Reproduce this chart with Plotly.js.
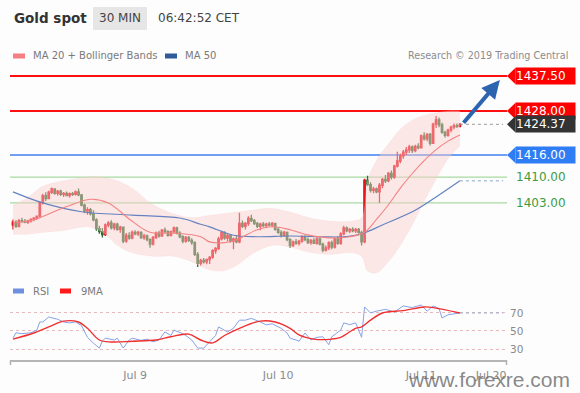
<!DOCTYPE html>
<html>
<head>
<meta charset="utf-8">
<script src="https://cdn.plot.ly/plotly-3.0.1.min.js"></script>
<style>
html,body{margin:0;padding:0;background:#fdfdfd;}
#chart{width:580px;height:393px;}
</style>
</head>
<body>
<div id="chart"></div>
<script>
// ---------- DATA ----------
const startTime = '2019-07-08T03:30:00Z';   // first 30-min bar
const barMinutes = 30;

const opens = [1397.0,1397.8,1396.6,1398.2,1398.0,1397.8,1398.1,1398.5,1398.9,1399.4,
1403.0,1405.0,1404.2,1405.9,1406.8,1405.6,1406.2,1405.3,1405.6,1405.0,
1405.5,1405.3,1406.0,1405.2,1402.4,1400.8,1401.2,1400.0,1398.4,1396.0,
1395.2,1394.4,1397.0,1397.6,1396.2,1397.2,1395.8,1396.4,1392.6,1394.2,
1393.4,1395.0,1394.6,1395.0,1393.6,1394.0,1393.0,1391.8,1393.6,1394.8,
1394.0,1395.6,1395.2,1394.2,1395.2,1396.2,1394.8,1393.8,1392.6,1393.6,
1392.8,1392.2,1389.0,1386.6,1387.4,1387.0,1387.6,1388.2,1390.0,1390.6,
1393.2,1395.0,1393.4,1394.2,1392.6,1393.2,1392.4,1397.4,1396.6,1397.4,
1398.8,1398.2,1397.4,1396.6,1397.2,1396.8,1397.2,1397.0,1397.4,1395.8,
1395.0,1394.2,1395.0,1393.0,1391.4,1392.4,1392.0,1392.6,1393.8,1393.0,
1392.2,1392.8,1392.0,1393.2,1391.8,1390.2,1390.8,1392.2,1391.0,1393.2,
1392.0,1394.6,1396.2,1395.4,1395.8,1395.4,1395.8,1395.0,1392.4,1409.2,
1408.0,1406.4,1406.8,1406.0,1407.8,1409.4,1409.0,1411.0,1410.0,1413.0,
1414.4,1415.8,1416.8,1417.4,1418.2,1417.2,1418.4,1418.0,1421.2,1420.4,
1421.6,1419.2,1424.4,1425.6,1424.2,1422.2,1421.4,1422.8,1423.6,1424.0,
1423.8];
const highs = [1398.5,1398.3,1398.6,1399.0,1398.6,1398.4,1398.8,1399.1,1399.6,1403.4,
1405.5,1405.9,1406.3,1407.2,1407.0,1406.5,1406.6,1406.0,1406.1,1405.8,
1406.0,1406.4,1406.9,1405.4,1402.8,1401.8,1401.6,1401.0,1398.8,1396.8,
1396.2,1397.4,1398.0,1398.3,1397.6,1397.6,1396.8,1396.6,1394.8,1395.0,
1395.5,1395.6,1395.4,1395.3,1394.6,1394.4,1393.4,1394.0,1395.2,1395.4,
1395.9,1396.3,1395.6,1395.5,1396.6,1396.5,1395.3,1394.2,1394.0,1394.0,
1393.4,1392.6,1389.6,1387.8,1388.0,1387.9,1388.6,1390.4,1391.0,1393.8,
1395.4,1395.3,1394.6,1394.5,1393.6,1394.2,1400.3,1398.2,1397.8,1399.4,
1399.8,1398.6,1397.8,1397.6,1397.8,1397.6,1397.8,1397.8,1397.6,1396.4,
1395.6,1395.4,1395.2,1393.4,1392.8,1393.2,1393.0,1394.2,1394.2,1393.6,
1393.2,1393.4,1393.8,1393.6,1392.2,1391.4,1392.6,1392.8,1393.6,1394.0,
1395.0,1396.8,1396.6,1396.2,1396.4,1396.2,1396.2,1395.4,1409.6,1410.4,
1408.6,1407.4,1407.2,1408.4,1409.8,1410.6,1411.4,1411.8,1413.4,1416.9,
1416.4,1417.4,1418.2,1418.8,1418.6,1418.8,1419.2,1421.6,1422.2,1422.0,
1422.0,1424.8,1426.6,1426.2,1424.8,1422.6,1423.2,1424.0,1424.6,1424.6,
1424.7];
const lows = [1395.8,1396.2,1396.3,1397.6,1397.5,1397.3,1397.7,1398.0,1398.4,1399.0,
1402.6,1403.5,1404.0,1405.4,1405.2,1405.0,1404.9,1404.6,1404.8,1404.5,
1404.9,1405.0,1404.8,1402.0,1400.2,1399.8,1399.6,1398.0,1395.4,1394.6,
1393.6,1394.0,1396.4,1395.8,1395.6,1395.4,1394.9,1392.0,1392.2,1393.0,
1393.1,1394.2,1394.0,1393.2,1393.0,1392.6,1390.8,1391.4,1393.2,1393.6,
1393.8,1394.8,1393.8,1393.9,1394.6,1394.4,1393.4,1392.0,1392.2,1392.4,
1391.6,1388.6,1385.6,1386.0,1386.5,1386.3,1386.4,1387.8,1389.2,1390.2,
1392.8,1393.0,1392.6,1392.2,1390.4,1392.0,1392.0,1396.2,1395.8,1396.8,
1397.8,1397.0,1396.2,1395.6,1396.4,1396.2,1396.6,1396.4,1395.4,1394.6,
1393.6,1393.8,1392.6,1390.8,1391.0,1391.6,1391.4,1392.2,1392.6,1391.8,
1391.6,1391.8,1391.6,1391.4,1389.6,1389.8,1390.2,1390.4,1390.6,1391.6,
1391.6,1394.2,1395.0,1394.8,1395.0,1394.8,1394.6,1391.4,1392.0,1407.6,
1405.8,1405.6,1405.6,1403.0,1407.0,1408.4,1408.6,1409.4,1409.6,1412.6,
1413.8,1415.0,1416.0,1416.6,1416.6,1416.8,1417.6,1417.8,1420.0,1419.8,
1418.6,1419.0,1423.4,1423.6,1421.8,1420.8,1421.0,1422.2,1423.0,1423.4,
1423.5];
const closes = [1397.8,1396.6,1398.2,1398.0,1397.8,1398.1,1398.5,1398.9,1399.4,1403.0,
1405.0,1404.2,1405.9,1406.8,1405.6,1406.2,1405.3,1405.6,1405.0,1405.5,
1405.3,1406.0,1405.2,1402.4,1400.8,1401.2,1400.0,1398.4,1396.0,1395.2,
1394.4,1397.0,1397.6,1396.2,1397.2,1395.8,1396.4,1392.6,1394.2,1393.4,
1395.0,1394.6,1395.0,1393.6,1394.0,1393.0,1391.8,1393.6,1394.8,1394.0,
1395.6,1395.2,1394.2,1395.2,1396.2,1394.8,1393.8,1392.6,1393.6,1392.8,
1392.2,1389.0,1386.6,1387.4,1387.0,1387.6,1388.2,1390.0,1390.6,1393.2,
1395.0,1393.4,1394.2,1392.6,1393.2,1392.4,1397.4,1396.6,1397.4,1398.8,
1398.2,1397.4,1396.6,1397.2,1396.8,1397.2,1397.0,1397.4,1395.8,1395.0,
1394.2,1395.0,1393.0,1391.4,1392.4,1392.0,1392.6,1393.8,1393.0,1392.2,
1392.8,1392.0,1393.2,1391.8,1390.2,1390.8,1392.2,1391.0,1393.2,1392.0,
1394.6,1396.2,1395.4,1395.8,1395.4,1395.8,1395.0,1392.4,1409.2,1408.0,
1406.4,1406.8,1406.0,1407.8,1409.4,1409.0,1411.0,1410.0,1413.0,1414.4,
1415.8,1416.8,1417.4,1418.2,1417.2,1418.4,1418.0,1421.2,1420.4,1421.6,
1419.2,1424.4,1425.6,1424.2,1422.2,1421.4,1422.8,1423.6,1424.0,1423.8,
1424.37];

// indicator lines at sample bars (bar index -> value)
const ma20Bars = [0,7,18,26,32,40,46,54,63,66,71,75,82,87,93,99,106,113,118,122,126,130,134,138,142,146,150];
const ma20Vals = [1397.6,1398.4,1402.0,1404.0,1403.0,1398.0,1395.0,1394.8,1393.8,1392.4,1392.2,1393.0,1395.7,1396.5,1395.7,1394.3,1393.5,1393.8,1395.0,1398.5,1402.5,1407.0,1411.0,1414.5,1417.5,1419.8,1421.5];
const ma50Bars = [0,10,23,40,56,63,66,74,82,93,104,111,117,124,135,142,150];
const ma50Vals = [1406.0,1403.0,1400.6,1399.7,1398.9,1397.2,1396.5,1394.2,1393.8,1394.0,1393.8,1393.8,1394.6,1397.0,1401.0,1404.6,1409.0];
const bbBars  = [0,5,10,17,25,30,35,40,47,54,60,65,70,75,80,87,93,100,107,113,117,119,122,126,130,134,138,142,146,150];
const bbUpper = [1402.5,1404.5,1407.5,1409.0,1410.0,1410.0,1409.0,1407.0,1402.5,1400.0,1399.0,1399.5,1400.0,1400.5,1401.0,1401.5,1400.5,1398.8,1398.0,1398.0,1399.0,1409.0,1414.5,1419.0,1423.0,1425.5,1426.8,1427.5,1428.0,1428.0];
const bbLower = [1394.5,1394.5,1395.0,1395.5,1396.5,1395.0,1391.5,1389.5,1388.5,1388.5,1387.0,1385.0,1384.5,1386.0,1389.0,1391.5,1391.0,1389.5,1389.0,1389.5,1388.5,1384.5,1384.0,1387.0,1391.5,1397.0,1403.5,1409.5,1415.0,1418.5];

const rsiBars = [0,1,3,6,8,9,10,12,15,17,19,21,23,25,27,29,30,31,34,35,37,39,40,43,45,47,49,51,53,54,57,58,60,62,64,66,68,69,72,74,76,78,80,83,85,87,90,92,93,95,96,98,100,102,104,106,107,110,111,113,115,117,118,120,122,125,128,131,134,137,139,141,143,144,146,150];
const rsiVals = [42,48,47,48,51,60,60,65.5,63,60,59,60,56,43,36.5,31,39,42,40,42,31,40,42,39.6,41,38,40,49,45,51,47,45,40,31,31,38.6,45,54.5,49,53,62,62,64,60,56.8,58,53,47.8,42,40,38.6,47.8,40,43,43.6,34.8,43.6,51,59,57,59,43,76.7,70,72,74,71,77.8,76,78.9,72,77.8,75,64.4,68,70];
const ma9Bars = [0,7,12,17,22,25,29,33,40,48,53,59,63,67,71,76,83,88,93,96,101,107,110,115,117,120,124,131,138,141,150];
const ma9Vals = [41,47.8,54.5,61,60,53,40,37.8,38.6,40,43.6,46.5,40,36.8,45,53,61,60,53,45.6,41,41,43,53,54.5,62,70,72.6,76.7,76,70];

// key levels and their label styles
const levelVals   = [1437.50, 1428.00, 1424.37, 1416.00, 1410.00, 1403.00];
const levelLabels = ['1437.50','1428.00','1424.37','1416.00','1410.00','1403.00'];
const levelKinds  = ['resist','resist','last','pivot','support','support'];
const rsiLevels = [30, 50, 70];
const tickDates = ['2019-07-09 00:00','2019-07-10 00:00','2019-07-11 00:00','2019-07-11 11:45'];
const tickTexts = ['Jul 9','Jul 10','Jul 11','Jul 20'];
const targetBar = 163.4, targetPrice = 1436.4;   // arrow head

// ---------- helpers ----------
const W = 580, H = 393;
const px = x => x / W, py = y => 1 - y / H;
const t0 = Date.parse(startTime);
function barTime(i){
  const d = new Date(t0 + i * barMinutes * 60000);
  const p = n => String(n).padStart(2,'0');
  return d.getUTCFullYear()+'-'+p(d.getUTCMonth()+1)+'-'+p(d.getUTCDate())+' '+p(d.getUTCHours())+':'+p(d.getUTCMinutes());
}
const barTimes = closes.map((_, i) => barTime(i));
const FONT = 'DejaVu Sans, Verdana, sans-serif';

const mainTop = 65, mainBot = 275, rsiTop = 300, rsiBot = 360;
const yMin = 1383.4, yMax = 1440.5;
const pxPerUnit = (mainBot - mainTop) / (yMax - yMin);
const lastBar = closes.length - 1;
const extBar = 164.5;

// ---------- traces ----------
const traces = [
  {type:'scatter', x: bbBars.map(barTime), y: bbUpper, mode:'lines',
   line:{color:'rgba(248,180,180,0.3)', width:0.5, shape:'spline'}},
  {type:'scatter', x: bbBars.map(barTime), y: bbLower, mode:'lines', fill:'tonexty',
   fillcolor:'rgba(250,205,205,0.45)',
   line:{color:'rgba(248,180,180,0.3)', width:0.5, shape:'spline'}},
  {type:'scatter', x: ma50Bars.map(barTime), y: ma50Vals, mode:'lines',
   line:{color:'#6482bf', width:1.2, shape:'spline'}},
  {type:'scatter', x: [barTime(ma50Bars[ma50Bars.length-1]), barTime(extBar)],
   y: [ma50Vals[ma50Vals.length-1], ma50Vals[ma50Vals.length-1]], mode:'lines',
   line:{color:'#8ea4c8', width:1, dash:'dot'}},
  {type:'scatter', x: ma20Bars.map(barTime), y: ma20Vals, mode:'lines',
   line:{color:'#f48282', width:1.1, shape:'spline'}},
  {type:'scatter', x: [barTime(lastBar), barTime(extBar)], y: [closes[lastBar], closes[lastBar]],
   mode:'lines', line:{color:'#9a9a9a', width:1, dash:'dot'}},
  {type:'candlestick', x: barTimes, open: opens, high: highs, low: lows, close: closes,
   increasing:{line:{color:'#e3161e', width:1.3}, fillcolor:'#e3161e'},
   decreasing:{line:{color:'#2f6b2f', width:1.3}, fillcolor:'#2f6b2f'},
   whiskerwidth:0},
  // RSI panel
  {type:'scatter', x: rsiBars.map(barTime), y: rsiVals, mode:'lines', yaxis:'y2',
   line:{color:'#86a3e6', width:1}},
  {type:'scatter', x: [barTime(rsiBars[rsiBars.length-1]), barTime(extBar)],
   y: [rsiVals[rsiVals.length-1], rsiVals[rsiVals.length-1]], mode:'lines', yaxis:'y2',
   line:{color:'#9aaccc', width:1, dash:'dot'}},
  {type:'scatter', x: ma9Bars.map(barTime), y: ma9Vals, mode:'lines', yaxis:'y2',
   line:{color:'#f03030', width:1.4, shape:'spline'}}
];
traces.forEach(t => { t.hoverinfo = 'skip'; });

// ---------- shapes & annotations ----------
const shapes = [];
const annotations = [];
const kindStyle = {
  resist:  {line:'#ff1010', width:2,   box:'#ff0000', text:'#ffffff'},
  last:    {line:null,      width:0,   box:'#333333', text:'#ffffff'},
  pivot:   {line:'#6f9ff2', width:2,   box:'#2f7df5', text:'#ffffff'},
  support: {line:'#a9d9a0', width:1.4, box:null,      text:'#3f9a3f'}
};
levelVals.forEach((v, k) => {
  const st = kindStyle[levelKinds[k]];
  if (st.line) {
    shapes.push({type:'line', xref:'paper', yref:'y', x0:px(10), x1:px(507), y0:v, y1:v,
                 line:{color:st.line, width:st.width}, layer:'below'});
  }
  const half = 8.2 / pxPerUnit;
  if (st.box) {
    shapes.push({type:'path', xref:'paper', yref:'y',
      path:`M ${px(507)},${v} L ${px(515.5)},${v+half} L ${px(515.5)},${v-half} Z`,
      fillcolor:st.box, line:{width:0}});
  }
  annotations.push({xref:'paper', yref:'y', x:px(515), y:v, xanchor:'left', yanchor:'middle',
    text:levelLabels[k], showarrow:false, width:59, height:16, align:'left', borderpad:0,
    bgcolor: st.box || 'rgba(0,0,0,0)', font:{family:FONT, size:12, color:st.text}});
});

// RSI axis end ticks
shapes.push({type:'line', xref:'paper', yref:'paper', x0:px(10.5), x1:px(10.5), y0:py(360), y1:py(365), line:{color:'#b0b0b0', width:1.5}});
shapes.push({type:'line', xref:'paper', yref:'paper', x0:px(506.5), x1:px(506.5), y0:py(360), y1:py(365), line:{color:'#b0b0b0', width:1.5}});

// header
shapes.push({type:'rect', xref:'paper', yref:'paper', x0:px(93), x1:px(147), y0:py(30), y1:py(7), fillcolor:'#e6e6e6', line:{width:0}});
annotations.push({xref:'paper', yref:'paper', x:px(12), y:py(18), xanchor:'left', yanchor:'middle', showarrow:false,
  text:'<b>Gold spot</b>', font:{family:FONT, size:13.5, color:'#333'}});
annotations.push({xref:'paper', yref:'paper', x:px(120), y:py(18), xanchor:'center', yanchor:'middle', showarrow:false,
  text:'30 MIN', font:{family:FONT, size:12, color:'#444'}});
annotations.push({xref:'paper', yref:'paper', x:px(156), y:py(18), xanchor:'left', yanchor:'middle', showarrow:false,
  text:'06:42:52 CET', font:{family:FONT, size:12, color:'#444'}});

// legends
function legendItem(x0, x1, y, color, label, tx){
  shapes.push({type:'rect', xref:'paper', yref:'paper', x0:px(x0), x1:px(x1), y0:py(y+2.5), y1:py(y-2.5), fillcolor:color, line:{width:0}});
  annotations.push({xref:'paper', yref:'paper', x:px(tx), y:py(y), xanchor:'left', yanchor:'middle', showarrow:false,
    text:label, font:{family:FONT, size:10, color:'#7a7a7a'}});
}
legendItem(13, 25, 56, '#f77f7f', 'MA 20 + Bollinger Bands', 31);
legendItem(165, 177, 56, '#2f5a9a', 'MA 50', 183);
legendItem(13, 24, 291, '#6f8fe0', 'RSI', 31);
legendItem(60, 71, 291, '#ff1a1a', '9MA', 79);
annotations.push({xref:'paper', yref:'paper', x:px(570), y:py(56), xanchor:'right', yanchor:'middle', showarrow:false,
  text:'Research © 2019 Trading Central', font:{family:FONT, size:9.6, color:'#8c8c8c'}});

// target arrow
annotations.push({xref:'x', yref:'y', axref:'x', ayref:'y',
  x: barTime(targetBar), y: targetPrice, ax: barTime(lastBar + 0.8), ay: closes[lastBar],
  showarrow:true, arrowhead:2, arrowsize:0.9, arrowwidth:4, arrowcolor:'#2d64b0', text:''});

// watermark (overlays the last tick labels, as in the reference)
annotations.push({xref:'paper', yref:'paper', x:px(489), y:py(379), xanchor:'center', yanchor:'middle', showarrow:false,
  text:'www.forexre.com', font:{family:'Liberation Sans, Arial, sans-serif', size:21, color:'rgba(105,105,105,0.8)'}});

const layout = {
  width: W, height: H, margin:{l:0, r:0, t:0, b:0},
  paper_bgcolor:'#fdfdfd', plot_bgcolor:'rgba(0,0,0,0)',
  showlegend:false, dragmode:false,
  xaxis:{domain:[px(10), px(507)], anchor:'y2', type:'date',
    range:[barTime(-1), barTime(165.8)], rangeslider:{visible:false},
    tickvals: tickDates, ticktext: tickTexts, ticks:'', showgrid:false, zeroline:false,
    showline:true, linecolor:'#b5b5b5', linewidth:1.5, ticklabelstandoff:4,
    tickfont:{family:FONT, size:11, color:'#8a8a8a'}},
  yaxis:{domain:[py(mainBot), py(mainTop)], range:[yMin, yMax], visible:false, fixedrange:true},
  yaxis2:{domain:[py(rsiBot), py(rsiTop)], range:[17.8, 84.4], anchor:'x', side:'right',
    tickvals: rsiLevels, ticks:'', showgrid:true, gridcolor:'#eab9b9', griddash:'dot', gridwidth:1,
    zeroline:false, showline:false, ticklabelstandoff:2,
    tickfont:{family:FONT, size:10.5, color:'#8a8a8a'}},
  shapes, annotations
};

Plotly.newPlot('chart', traces, layout, {staticPlot:true, displayModeBar:false});
</script>
</body>
</html>
